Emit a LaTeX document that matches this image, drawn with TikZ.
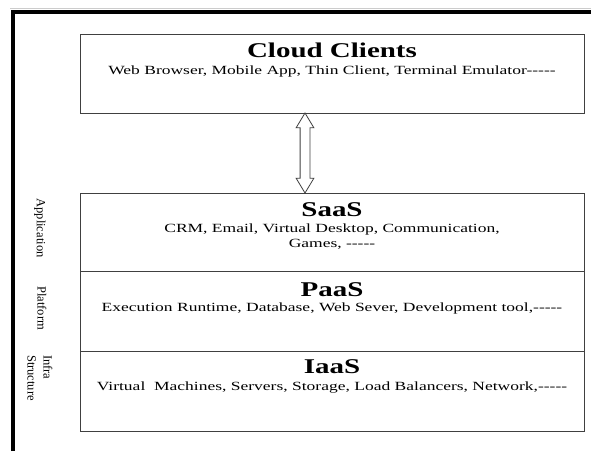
\documentclass[tikz,border=0pt]{standalone}
\usepackage{fontspec}
\setmainfont{Liberation Serif}
\newfontfamily\widefont{Liberation Serif}[FakeStretch=1.4]
\newfontfamily\titlefont{Liberation Serif}[FakeStretch=1.38]
\usetikzlibrary{shapes.arrows}

\tikzset{
  layer/.style={draw=black!75, line width=0.9pt, minimum width=504pt, inner sep=0pt},
  title/.style={font=\titlefont\fontsize{21}{24}\selectfont\bfseries, anchor=base, inner sep=0pt},
  items/.style={font=\widefont\fontsize{12.5}{15}\selectfont, anchor=base, inner sep=0pt, align=center},
  side/.style={font=\fontsize{12.5}{16}\selectfont, rotate=-90, align=left, inner sep=0pt},
  link/.style={double arrow, draw=black!75, line width=0.8pt, rotate=90, minimum height=80pt,
    inner xsep=0pt, inner ysep=4.5pt, double arrow head extend=4pt, double arrow tip angle=62}
}

\begin{document}
\begin{tikzpicture}[x=1pt, y=-1pt]
    \useasboundingbox (0,0) rectangle (591,451);

    % Draw the frame
    \draw[gray!40, line width=0.8pt] (10,8.5) -- (591,8.5);
    \draw[line width=4pt] (13,451) -- (13,11.5) -- (591,11.5);

    % Draw the boxes
    \node[layer, minimum height=79pt] (cc) at (332,73.5) {};
    \node[layer, minimum height=78pt] (saas) at (332,232) {};
    \node[layer, minimum height=80pt] (paas) at (332,311) {};
    \node[layer, minimum height=80pt] (iaas) at (332,391) {};

    % Add the titles and items
    \node[title] (cctitle) at ([yshift=-24pt]cc.north) {Cloud Clients};
    \node[items] (ccitems) at ([yshift=-17pt]cctitle.base) {Web Browser, Mobile App, Thin Client, Terminal Emulator-----};

    \node[title] (saastitle) at ([yshift=-24pt]saas.north) {SaaS};
    \node[items] (saasitems) at ([yshift=-31pt]saastitle.base) {CRM, Email, Virtual Desktop, Communication,\\Games, -----};

    \node[title] (paastitle) at ([yshift=-26pt]paas.north) {PaaS};
    \node[items] (paasitems) at ([yshift=-15pt]paastitle.base) {Execution Runtime, Database, Web Sever, Development tool,-----};

    \node[title] (iaastitle) at ([yshift=-23pt]iaas.north) {IaaS};
    \node[items] (iaasitems) at ([yshift=-17pt]iaastitle.base) {Virtual\ \ Machines, Servers, Storage, Load Balancers, Network,-----};

    % Add the side labels
    \node[side] (app) at (40,228) {Application};
    \node[side] (plat) at (42,308) {Platform};
    \node[side] (infra) at (40,378) {Infra\\Structure};

    % Draw the link
    \path ([xshift=-27pt]cc.south) -- ([xshift=-27pt]saas.north) node[link, midway] (ccsaas) {};
\end{tikzpicture}
\end{document}
